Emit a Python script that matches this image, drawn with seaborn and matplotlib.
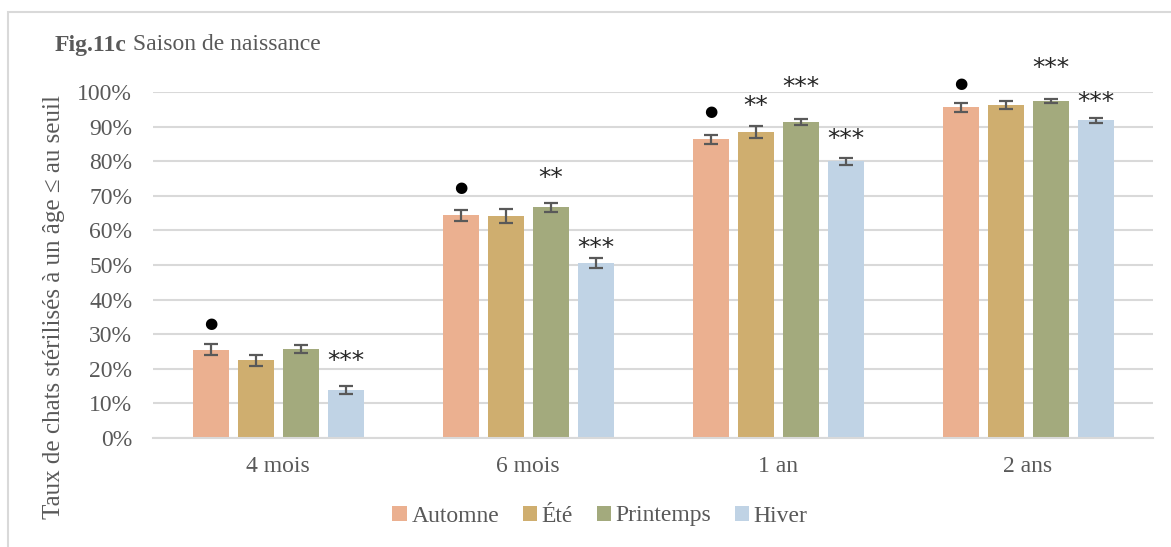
import matplotlib
matplotlib.use("Agg")
import matplotlib.pyplot as plt
import seaborn as sns
import pandas as pd
import numpy as np
from matplotlib.patches import Patch, Rectangle

# ---- data ----
ages = ["4 mois", "6 mois", "1 an", "2 ans"]
seasons = ["Automne", "Été", "Printemps", "Hiver"]
automne = [25.5, 64.4, 86.3, 95.6]
ete = [22.5, 64.1, 88.5, 96.3]
printemps = [25.7, 66.7, 91.3, 97.4]
hiver = [13.9, 50.6, 80.0, 91.8]
err_automne = [1.6, 1.6, 1.3, 1.3]
err_ete = [1.6, 2.1, 1.8, 1.2]
err_printemps = [1.2, 1.3, 0.8, 0.5]
err_hiver = [1.2, 1.4, 1.0, 0.7]
# significance labels: (age, season, label, label height in %)
sig_age = ["4 mois", "4 mois", "6 mois", "6 mois", "6 mois", "1 an", "1 an", "1 an", "1 an", "2 ans", "2 ans", "2 ans"]
sig_season = ["Automne", "Hiver", "Automne", "Printemps", "Hiver", "Automne", "Été", "Printemps", "Hiver", "Automne", "Printemps", "Hiver"]
sig_label = ["●", "***", "●", "**", "***", "●", "**", "***", "***", "●", "***", "***"]
sig_y = [33.0, 22.3, 72.4, 75.0, 55.0, 94.3, 96.0, 101.5, 86.5, 102.6, 107.0, 97.1]

colors = ["#EBB090", "#CFAE6F", "#A3AA7D", "#C0D3E5"]
grey_text = "#595959"

df = pd.DataFrame({
    "age": ages * 4,
    "season": [s for s in seasons for _ in ages],
    "value": automne + ete + printemps + hiver,
    "err": err_automne + err_ete + err_printemps + err_hiver,
})

sns.set_theme(style="white")
plt.rcParams["font.family"] = ["Liberation Serif", "DejaVu Serif"]

fig = plt.figure(figsize=(11.71, 5.47), dpi=100)
ax = fig.add_axes([153 / 1171, 1 - 438 / 547, 1000 / 1171, (438 - 92) / 547])

sns.barplot(data=df, x="age", y="value", hue="season", order=ages, hue_order=seasons,
            palette=colors, saturation=1, width=0.72, gap=0.2, errorbar=None, ax=ax,
            edgecolor="none", legend=False, zorder=2)

# error bars and significance labels from the bar geometry
nh = len(seasons)
slot = 0.72 / nh
for i, s in enumerate(seasons):
    sub = df[df.season == s].set_index("age").loc[ages]
    xs = np.arange(len(ages)) - 0.36 + slot * (i + 0.5)
    ax.errorbar(xs, sub["value"], yerr=sub["err"], fmt="none", ecolor=grey_text,
                elinewidth=1.6, capsize=5, capthick=1.6, zorder=3)

for a, s, lab, y in zip(sig_age, sig_season, sig_label, sig_y):
    x = ages.index(a) - 0.36 + slot * (seasons.index(s) + 0.5)
    if lab == "●":
        ax.text(x, y, lab, ha="center", va="center", fontsize=11, color="black",
                family=["DejaVu Sans"], clip_on=False)
    else:
        ax.text(x, y, lab, ha="center", va="center", fontsize=18, color="#262626",
                family=["DejaVu Sans"], clip_on=False)

ax.set_ylim(0, 100)
ax.set_xlim(-0.5, 3.5)
ax.set_yticks(range(0, 101, 10))
ax.set_yticklabels([f"{v}%" for v in range(0, 101, 10)], fontsize=17, color=grey_text)
ax.tick_params(axis="x", labelsize=17, labelcolor=grey_text, length=0, pad=13)
ax.tick_params(axis="y", length=0, pad=15)
ax.yaxis.grid(True, color="#D9D9D9", linewidth=1.5, zorder=0)
ax.set_axisbelow(True)
for sp in ["top", "right", "left"]:
    ax.spines[sp].set_visible(False)
ax.spines["bottom"].set_color("#D9D9D9")
ax.spines["bottom"].set_linewidth(1.5)
ax.set_xlabel("")
ax.set_ylabel("")

fig.text(54 / 1171, 1 - 307 / 547, "Taux de chats stérilisés à un âge ≤ au seuil",
         rotation=90, ha="center", va="center", fontsize=18, color=grey_text)

t1 = fig.text(55 / 1171, 1 - 45 / 547, "Fig.11c", fontsize=17, fontweight="bold",
              color=grey_text, ha="left", va="center")
ax.annotate(" Saison de naissance", xy=(1, 0), xycoords=t1, ha="left", va="bottom",
            fontsize=17, color=grey_text)

handles = [Patch(facecolor=c, edgecolor="none", label=s) for c, s in zip(colors, seasons)]
fig.legend(handles=handles, loc="center", bbox_to_anchor=(600 / 1171, 1 - 516 / 547),
           ncol=4, frameon=False, fontsize=17, handlelength=0.6, handleheight=0.6,
           handletextpad=0.2, columnspacing=1.0, labelcolor=grey_text)

fig.patches.append(Rectangle((8 / 1171, -0.1), 1.2, 1.1 - 12 / 547, transform=fig.transFigure,
                             fill=False, edgecolor="#D9D9D9", linewidth=1.5, zorder=-1))

fig.savefig("out.png", dpi=100)
